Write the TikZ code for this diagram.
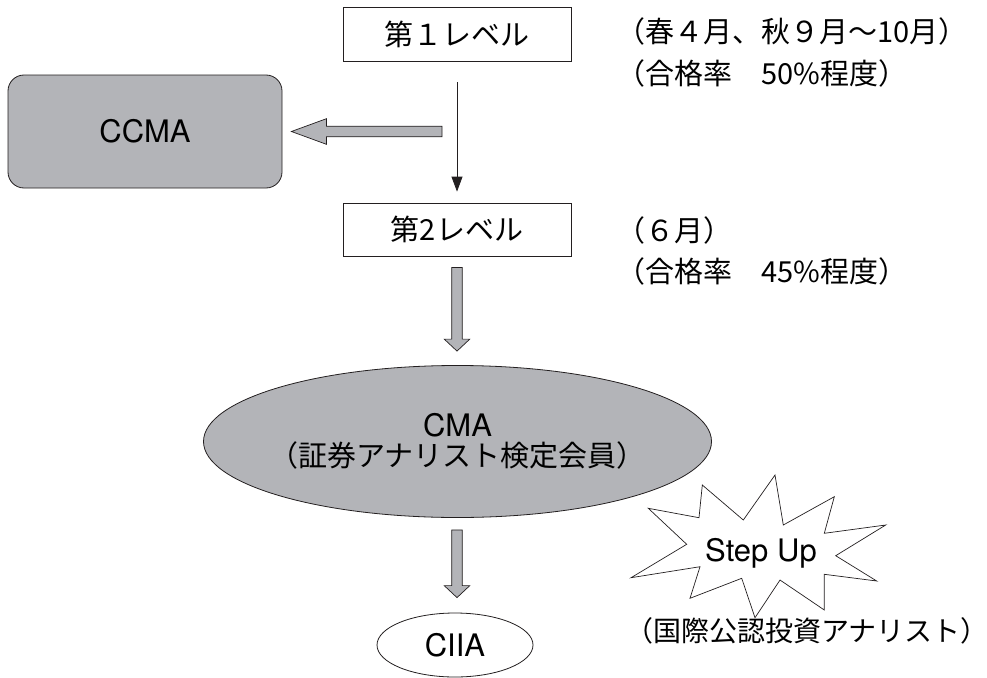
\documentclass[tikz,border=0pt]{standalone}
\usepackage{fontspec}
\setmainfont{TeX Gyre Heros}
\newfontfamily\jpFont{Noto Sans CJK JP}
\usetikzlibrary{positioning,shapes.geometric,arrows.meta,calc}
\definecolor{cmaGray}{RGB}{179,180,184}
\definecolor{lineColor}{RGB}{35,31,32}
\tikzstyle{chart} = [x = 1pt, y = 1pt, line width = .8pt, every node/.style={inner sep = 0pt}]
\tikzstyle{levelBox} = [draw=lineColor, fill=white, minimum width = 228pt, minimum height = 54pt, font=\jpFont\fontsize{29}{34}\selectfont]
\tikzstyle{noteText} = [anchor = base west, font=\jpFont\fontsize{29}{34}\selectfont]
\tikzstyle{latinText} = [font=\fontsize{31}{33}\selectfont]
\tikzstyle{grayShape} = [draw=lineColor, fill=cmaGray]
\tikzstyle{grayArrowStyle} = [draw=lineColor, fill=cmaGray, line width = .7pt, line join = miter]
\tikzstyle{thinArrow} = [draw=lineColor, -{Triangle[length = 15pt, width = 11pt]}]
\tikzstyle{burstStyle} = [draw=lineColor, fill=white, line width = .7pt, line join = miter]
\newcommand{\shaftHalf}{5.3pt}
\newcommand{\headHalf}{12.8pt}
\newcommand{\downBlockArrow}[3]{\filldraw [grayArrowStyle] ([xshift=-\shaftHalf]#1) -- ([xshift=-\shaftHalf, yshift=#3]#2) -- ([xshift=-\headHalf, yshift=#3]#2) -- (#2) -- ([xshift=\headHalf, yshift=#3]#2) -- ([xshift=\shaftHalf, yshift=#3]#2) -- ([xshift=\shaftHalf]#1) -- cycle;}
\newcommand{\leftBlockArrow}[3]{\filldraw [grayArrowStyle] ([yshift=\shaftHalf]#1) -- ([xshift=#3, yshift=\shaftHalf]#2) -- ([xshift=#3, yshift=\headHalf]#2) -- (#2) -- ([xshift=#3, yshift=-\headHalf]#2) -- ([xshift=#3, yshift=-\shaftHalf]#2) -- ([yshift=-\shaftHalf]#1) -- cycle;}

\begin{document}
\begin{tikzpicture}[chart]
  \useasboundingbox (0,0) rectangle (987,-677);

  \node [levelBox] (lvl1) at (457,-34) {第１レベル};
  \node [levelBox, minimum height = 53pt] (lvl2) at (457,-229.5) {第2レベル};
  \node [grayShape, rounded corners = 16pt, minimum width = 274pt, minimum height = 113pt, latinText] (ccma) at (145,-131.5) {CCMA};
  \node [grayShape, ellipse, minimum width = 508pt, minimum height = 152pt] (cma) at (457.5,-441.5) {};
  \node [latinText, align = center] (cmaText) at (cma.center) {CMA\\[-3pt]{\jpFont\fontsize{29}{31}\selectfont （証券アナリスト検定会員）}};
  \node [ellipse, draw=lineColor, fill=white, minimum width = 156pt, minimum height = 64pt, latinText] (ciia) at (455,-645) {CIIA};

  \node [noteText] (note1a) at (616,-43) {（春４月、秋９月～10月）};
  \node [noteText] (note1b) at (616,-84) {（合格率　50\%程度）};
  \node [noteText] (note2a) at (616,-241) {（６月）};
  \node [noteText] (note2b) at (616,-282) {（合格率　45\%程度）};
  \node [noteText, font=\jpFont\fontsize{28}{34}\selectfont] (note3) at (625,-641) {（国際公認投資アナリスト）\kern-14pt};

  % step up burst
  \draw [burstStyle] (775,-475) -- (783.3,-525) -- (834.3,-496.7) -- (824.3,-533.3) -- (885.7,-525)
    -- (835.7,-555.7) -- (876.7,-581) -- (824.3,-574.3) -- (824.3,-610) -- (780,-580)
    -- (755,-617.7) -- (741.7,-578.3) -- (690,-598.3) -- (700,-566.7) -- (631,-577.7)
    -- (686.7,-544.3) -- (648.3,-508.3) -- (699,-517.7) -- (702.3,-485) -- (743.3,-520) -- cycle;
  \node [latinText] (stepUp) at (761,-553) {Step Up};

  % arrows
  \draw [thinArrow, shorten <= 21pt, shorten >= 11pt] (lvl1) -- (lvl2);
  \coordinate (leftTail) at ($(ccma.east -| lvl1.south) + (-15,0)$);
  \coordinate (leftTip) at ($(ccma.east) + (9,0)$);
  \leftBlockArrow{leftTail}{leftTip}{35pt}
  \coordinate (downTailA) at ($(lvl2.south) + (0,-11)$);
  \coordinate (downTipA) at ($(downTailA |- cma.north) + (0,14)$);
  \downBlockArrow{downTailA}{downTipA}{12pt}
  \coordinate (downTailB) at ($(cma.south) + (-0.5,-12)$);
  \coordinate (downTipB) at ($(downTailB |- ciia.north) + (0,15)$);
  \downBlockArrow{downTailB}{downTipB}{12pt}
\end{tikzpicture}
\end{document}
